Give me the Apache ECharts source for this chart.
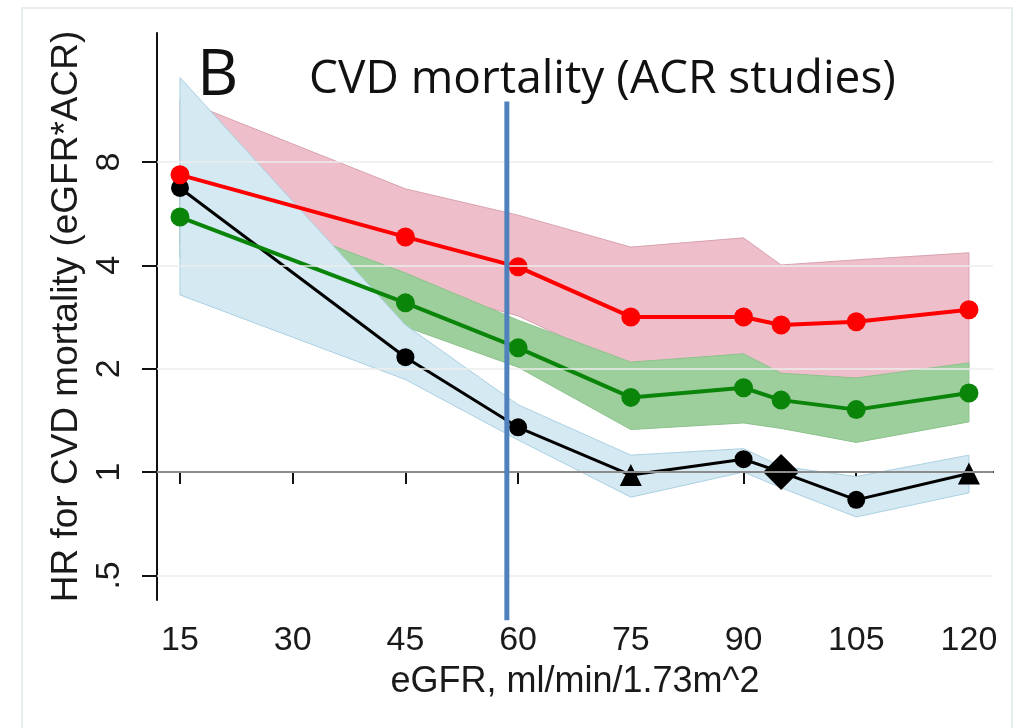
<!DOCTYPE html>
<html>
<head>
<meta charset="utf-8">
<script src="https://cdn.jsdelivr.net/npm/echarts@6/dist/echarts.min.js"></script>
<style>
  html, body { margin: 0; padding: 0; background: #fff; }
  #chart { width: 1023px; height: 728px; }
</style>
</head>
<body>
<div id="chart"></div>
<script>
// eGFR points (ml/min/1.73m^2)
const eGFR = [15, 45, 60, 75, 90, 95, 105, 120];

// black: reference-ish curve with CI (light blue band)
const hrBlack = [6.72, 2.16, 1.35, 0.98, 1.09, 1.0, 0.83, 0.99];
const loBlack = [3.28, 1.86, 1.24, 0.845, 1.0, 0.90, 0.74, 0.87];
const hiBlack = [14.1, 2.68, 1.57, 1.12, 1.17, 1.04, 0.97, 1.12];
const blackSymbols = ['circle', 'circle', 'circle', 'triangle', 'circle', 'diamond', 'circle', 'triangle'];

// red curve with CI (pink band)
const hrRed = [7.34, 4.84, 3.96, 2.83, 2.83, 2.68, 2.74, 2.97];
const loRed = [4.6, 3.5, 2.85, 2.0, 2.1, 1.85, 1.8, 2.0];
const hiRed = [12.2, 6.68, 5.6, 4.52, 4.81, 4.01, 4.15, 4.35];

// green curve with CI (green band)
const hrGreen = [5.53, 3.11, 2.30, 1.65, 1.76, 1.62, 1.52, 1.70];
const loGreen = [4.2, 2.65, 2.02, 1.33, 1.39, 1.34, 1.22, 1.40];
const hiGreen = [6.7, 3.8, 2.77, 2.09, 2.21, 1.94, 1.88, 2.08];

// axes
const xTicks = [15, 30, 45, 60, 75, 90, 105, 120];
const yTicks = [0.5, 1, 2, 4, 8];
const xRange = [11.94, 123.2];
const yRange = [0.424, 19];

// vertical marker at eGFR ~60
const vLineX = 58.5;
const vLineSpan = [0.37, 12];

const lg = v => Math.log2(v);
const fmtY = v => {
    const r = Math.round(Math.pow(2, v) * 100) / 100;
    return r < 1 ? String(r).replace(/^0/, '') : String(r);
};

const pts = arr => eGFR.map((x, i) => [x, lg(arr[i])]);

// confidence band as one polygon, drawn through the axes' own coord()
function band(name, lo, hi, fill, edge) {
    return {
        name: name + 'Band', type: 'custom', silent: true,
        data: eGFR.map((x, i) => [x, lg(lo[i]), lg(hi[i])]),
        encode: { x: 0, y: [1, 2] },
        renderItem: (params, api) => {
            if (params.dataIndex !== 0) return;
            const top = eGFR.map((x, i) => api.coord([x, lg(hi[i])]));
            const bottom = eGFR.map((x, i) => api.coord([x, lg(lo[i])])).reverse();
            return {
                type: 'polygon',
                shape: { points: top.concat(bottom) },
                style: { fill: fill, stroke: edge, lineWidth: 1 }
            };
        }
    };
}

const labelFont = { fontFamily: 'Liberation Sans', color: '#1a1a1a' };

const chart = echarts.init(document.getElementById('chart'));

const series = [
    band('red', loRed, hiRed, '#eebfca', '#d8a3b0'),
    band('green', loGreen, hiGreen, '#9dcf9d', '#8cc28c'),
    band('blue', loBlack, hiBlack, '#d5e9f3', '#aad0e2'),
    {
        name: 'black', type: 'line',
        data: eGFR.map((x, i) => ({
            value: [x, lg(hrBlack[i])],
            symbol: blackSymbols[i],
            symbolSize: blackSymbols[i] === 'diamond' ? 36 : (blackSymbols[i] === 'triangle' ? 22 : 18)
        })),
        lineStyle: { color: '#000', width: 3 },
        itemStyle: { color: '#000' }
    },
    {
        name: 'green', type: 'line', data: pts(hrGreen),
        symbol: 'circle', symbolSize: 19,
        lineStyle: { color: '#0a850a', width: 4 },
        itemStyle: { color: '#0a850a' }
    },
    {
        name: 'red', type: 'line', data: pts(hrRed),
        symbol: 'circle', symbolSize: 19,
        lineStyle: { color: '#ff0000', width: 4 },
        itemStyle: { color: '#ff0000' }
    },
    {
        name: 'vline', type: 'line', clip: false, silent: true,
        data: vLineSpan.map(v => [vLineX, lg(v)]),
        showSymbol: false,
        lineStyle: { color: '#4f81bd', width: 5 },
        z: 5
    }
];

// grid lines drawn under the bands
series[0].markLine = {
    silent: true, symbol: 'none', label: { show: false },
    data: yTicks.map(t => ({
        yAxis: lg(t),
        lineStyle: t === 1
            ? { color: '#8c8c8c', width: 2, type: 'solid' }
            : { color: '#ececec', width: 1.5, type: 'solid' }
    }))
};

chart.setOption({
    animation: false,
    backgroundColor: '#fff',
    graphic: [{
        type: 'rect', silent: true,
        shape: { x: 22, y: 8, width: 990, height: 740 },
        style: { fill: 'none', stroke: '#e8eef0', lineWidth: 2 }
    }],
    title: [
        {
            text: 'B', left: 192, top: 40,
            textStyle: { fontFamily: 'Open Sans', fontSize: 64, fontWeight: 'normal', color: '#111' }
        },
        {
            text: 'CVD mortality (ACR studies)', left: 304, top: 52,
            textStyle: { fontFamily: 'Open Sans', fontSize: 46, fontWeight: 'normal', color: '#111' }
        }
    ],
    grid: { left: 157, right: 30, top: 33, bottom: 128 },
    xAxis: {
        type: 'value', min: xRange[0], max: xRange[1],
        name: 'eGFR, ml/min/1.73m^2', nameLocation: 'middle', nameGap: 64,
        nameTextStyle: { ...labelFont, fontSize: 36 },
        axisLine: { lineStyle: { color: '#111', width: 2 } },
        axisTick: { customValues: xTicks, length: 12, lineStyle: { color: '#111', width: 2 } },
        axisLabel: { customValues: xTicks, margin: 24, fontSize: 34, ...labelFont },
        splitLine: { show: false }
    },
    yAxis: {
        type: 'value', min: lg(yRange[0]), max: lg(yRange[1]),
        name: 'HR for CVD mortality (eGFR*ACR)', nameLocation: 'middle', nameGap: 70,
        nameTextStyle: { ...labelFont, fontSize: 37 },
        axisLine: { show: true, lineStyle: { color: '#111', width: 2 } },
        axisTick: { show: true, customValues: yTicks.map(lg), length: 15, lineStyle: { color: '#111', width: 2 } },
        axisLabel: { customValues: yTicks.map(lg), rotate: 90, margin: 30, fontSize: 34, formatter: fmtY, ...labelFont },
        splitLine: { show: false }
    },
    series
});
</script>
</body>
</html>
